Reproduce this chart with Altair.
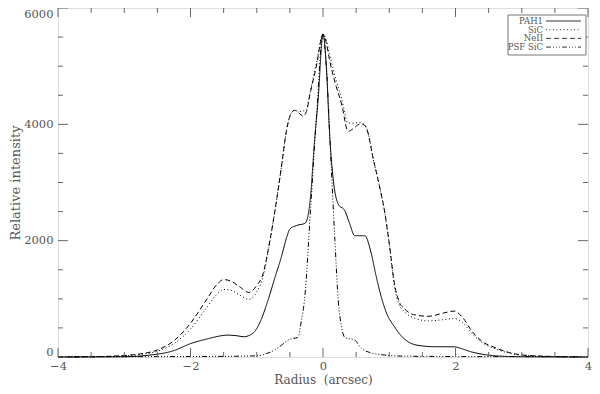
import altair as alt
import pandas as pd

# ---- data ----
neii_x = [-4, -3.5, -3.0, -2.75, -2.5, -2.25, -2.0, -1.75, -1.6, -1.5, -1.4, -1.25, -1.12, -1.0, -0.9, -0.83,
          -0.7, -0.63, -0.55, -0.5, -0.43, -0.35, -0.3, -0.25, -0.2, -0.1, 0.0, 0.05, 0.1, 0.2, 0.28, 0.38,
          0.45, 0.55, 0.62, 0.68, 0.75, 0.85, 0.93, 1.0, 1.08, 1.15, 1.23, 1.4, 1.6, 1.8, 1.98, 2.1, 2.25,
          2.4, 2.6, 2.8, 3.0, 3.5, 4.0]
neii_y = [0, 5, 25, 55, 120, 280, 580, 1000, 1250, 1330, 1310, 1200, 1110, 1230, 1450, 1830,
          2700, 3250, 3900, 4140, 4240, 4180, 4140, 4220, 4500, 5000, 5550, 5400, 5100, 4650, 4350, 3880,
          3920, 4000, 3990, 3850, 3450, 2950, 2500, 1950, 1250, 950, 830, 720, 700, 750, 790, 690, 440,
          270, 160, 80, 35, 8, 0]

sic_x = neii_x
sic_y = [0, 4, 20, 45, 100, 230, 480, 860, 1080, 1160, 1150, 1060, 990, 1120, 1400, 1800,
         2700, 3250, 3900, 4140, 4240, 4220, 4230, 4250, 4520, 5050, 5550, 5450, 5200, 4750, 4450, 4020,
         4020, 4030, 4000, 3860, 3450, 2950, 2500, 1950, 1200, 900, 780, 660, 620, 640, 660, 600, 400,
         250, 140, 70, 30, 7, 0]

pah_x = [-4, -3.0, -2.64, -2.25, -2.0, -1.75, -1.43, -1.3, -1.19, -1.1, -1.03, -0.95, -0.83, -0.73, -0.63,
         -0.55, -0.5, -0.4, -0.27, -0.2, -0.12, -0.075, 0.0, 0.05, 0.1, 0.15, 0.23, 0.33, 0.4, 0.48, 0.63,
         0.73, 0.8, 0.88, 0.95, 1.08, 1.2, 1.33, 1.5, 1.68, 1.98, 2.1, 2.23, 2.45, 2.64, 3.0, 4.0]
pah_y = [0, 5, 30, 110, 230, 310, 376, 365, 348, 380, 440, 600, 975, 1350, 1715,
         2050, 2200, 2260, 2300, 2627, 3824, 4400, 5550, 5000, 3824, 3100, 2627, 2513, 2300, 2085, 2085,
         1772, 1400, 1031, 780, 518, 340, 234, 190, 177, 175, 140, 91, 40, 17, 5, 0]

psf_x = [-4, -2.0, -1.0, -0.85, -0.73, -0.63, -0.53, -0.45, -0.38, -0.33, -0.28, -0.18, -0.1, 0.0, 0.05,
         0.125, 0.18, 0.23, 0.28, 0.33, 0.48, 0.58, 0.7, 0.93, 1.2, 2.0, 4.0]
psf_y = [5, 8, 20, 60, 120, 200, 290, 320, 336, 600, 975, 2684, 4108, 5550, 5000,
         3250, 2000, 975, 520, 336, 290, 148, 80, 34, 15, 8, 5]

series_names = ["PAH1", "SiC", "NeII", "PSF SiC"]
series_dash = [[1, 0], [1, 2.5], [5, 3], [5, 2, 1, 2, 1, 2, 1, 2]]

x_major = [-4, -2, 0, 2, 4]
x_minor = [-3.5, -3, -2.5, -1.5, -1, -0.5, 0.5, 1, 1.5, 2.5, 3, 3.5]
y_major = [0, 2000, 4000, 6000]
y_minor = [500, 1000, 1500, 2500, 3000, 3500, 4500, 5000, 5500]

x_title = "Radius\u00a0\u00a0(arcsec)"
y_title = "Relative intensity"

# ---- build table ----
rows = []
for name, xs_, ys_ in [("PAH1", pah_x, pah_y), ("SiC", sic_x, sic_y),
                       ("NeII", neii_x, neii_y), ("PSF SiC", psf_x, psf_y)]:
    for i, (a, b) in enumerate(zip(xs_, ys_)):
        rows.append({"series": name, "r": a, "v": b, "i": i})
df = pd.DataFrame(rows)

W, H = 530, 349
FONT = "DejaVu Serif"
TXT = "#555555"
AX = "#666666"

xs = alt.Scale(domain=[-4, 4], nice=False, zero=False)
ys = alt.Scale(domain=[0, 6000], nice=False, zero=False)

lines = alt.Chart(df).mark_line(color="black", strokeWidth=1, interpolate="monotone").encode(
    x=alt.X("r:Q", scale=xs, axis=alt.Axis(values=x_major, ticks=False, domain=False, grid=False,
                                           labelFlush=False,
                                           labelFont=FONT, labelFontSize=11.5, labelColor=TXT,
                                           labelPadding=3, title=x_title, titleFont=FONT,
                                           titleFontSize=12, titleFontWeight="normal", titleColor=TXT,
                                           titleY=22, titleBaseline="middle", format="d")),
    y=alt.Y("v:Q", scale=ys, axis=alt.Axis(values=y_major, ticks=False, domain=False, grid=False,
                                           labelFlush=True,
                                           labelFont=FONT, labelFontSize=11.5, labelColor=TXT,
                                           labelPadding=5, title=y_title, titleFont=FONT,
                                           titleFontSize=13, titleFontWeight="normal", titleColor=TXT,
                                           titleX=-43, titleY=H / 2, titleBaseline="middle", format="d")),
    strokeDash=alt.StrokeDash("series:N", scale=alt.Scale(domain=series_names, range=series_dash),
                              legend=None),
    order="i:Q",
    detail="series:N",
)

tx_major = pd.DataFrame({"t": x_major})
tx_minor = pd.DataFrame({"t": x_minor})
ty_major = pd.DataFrame({"t": y_major})
ty_minor = pd.DataFrame({"t": y_minor})

def xticks(d, L):
    b = alt.Chart(d).mark_rule(color=AX, strokeWidth=1)
    return (b.encode(x=alt.X("t:Q", scale=xs), y=alt.value(H), y2=alt.value(H - L)) +
            b.encode(x=alt.X("t:Q", scale=xs), y=alt.value(0), y2=alt.value(L)))

def yticks(d, L):
    b = alt.Chart(d).mark_rule(color=AX, strokeWidth=1)
    return (b.encode(y=alt.Y("t:Q", scale=ys), x=alt.value(0), x2=alt.value(L)) +
            b.encode(y=alt.Y("t:Q", scale=ys), x=alt.value(W), x2=alt.value(W - L)))

ticks = xticks(tx_major, 9) + xticks(tx_minor, 5) + yticks(ty_major, 10) + yticks(ty_minor, 5)

# ---- legend (labels left, samples right) ----
leg_box = alt.Chart(pd.DataFrame({"a": [0]})).mark_rect(fill="white", stroke="#777777", strokeWidth=1).encode(
    x=alt.value(450), x2=alt.value(528), y=alt.value(7), y2=alt.value(47))
leg_layers = [leg_box]
for k, name in enumerate(series_names):
    yy = 13 + k * 8.7
    d = pd.DataFrame({"label": [name]})
    leg_layers.append(alt.Chart(d).mark_text(align="right", baseline="middle", font=FONT, fontSize=8.5,
                                             color=TXT).encode(text="label:N", x=alt.value(485), y=alt.value(yy)))
    leg_layers.append(alt.Chart(d).mark_rule(color="black", strokeWidth=0.8, strokeDash=series_dash[k]).encode(
        x=alt.value(488), x2=alt.value(523), y=alt.value(yy)))

chart = alt.layer(lines, ticks, *leg_layers).properties(
    width=W, height=H,
    autosize=alt.AutoSizeParams(type="none"),
    padding={"left": 50, "top": 0, "right": 4, "bottom": 30},
).configure_view(stroke=AX, strokeWidth=1).configure(background="white")

chart.save("out.html", embed_options={"renderer": "svg", "actions": False})
